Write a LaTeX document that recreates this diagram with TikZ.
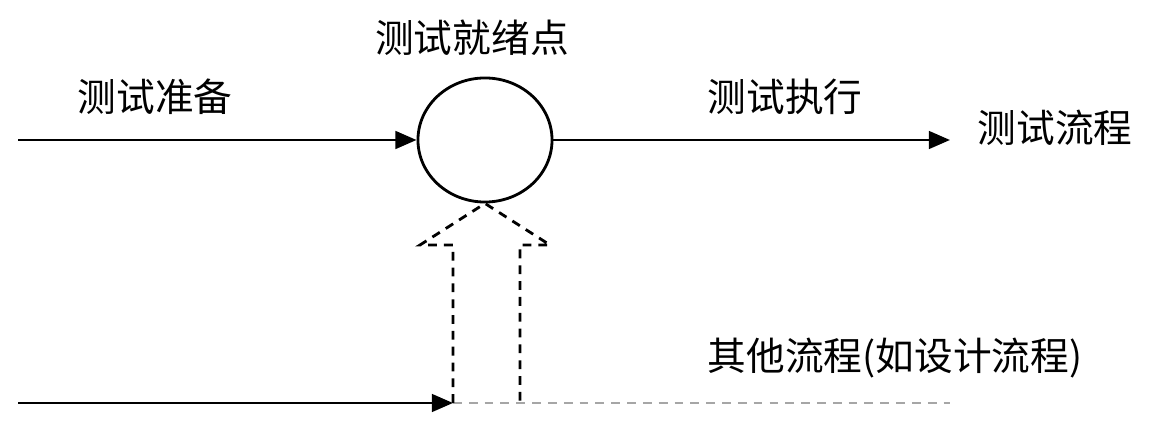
\documentclass[tikz,border=0pt]{standalone}
\usepackage{fontspec}
\setmainfont{Noto Sans CJK SC}
\usetikzlibrary{arrows.meta,shapes.geometric}
\begin{document}
\begin{tikzpicture}[x=0.01cm,y=-0.01cm,
  lbl/.style={font=\fontsize{11}{13}\selectfont},
  arr/.style={line width=0.8pt,-{Triangle[length=6pt,width=5pt]}},
  dsh/.style={line width=0.8pt,dash pattern=on 2.5pt off 2pt}]
\useasboundingbox (0,0) rectangle (1157,440);
\node[ellipse,draw,line width=0.8pt,inner sep=0,minimum width=1.34cm,minimum height=1.24cm] (c) at (485,140) {};
\coordinate (a0) at (18,140);
\coordinate (a1) at (950,140);
\draw[arr] (a0) -- (c.west);
\draw[arr] (c.east) -- (a1);
\coordinate (b0) at (18,403);
\coordinate (b1) at (453,403);
\coordinate (b2) at (950,403);
\draw[arr] (b0) -- (b1);
\draw[dsh,gray!70] (b1) -- (b2);
\draw[dsh] (453,403) -- (453,245) -- (420,245) -- (c.south) -- (550,245) -- (520,245) -- (520,403);
\node[lbl] (t1) at (472,38) {测试就绪点};
\node[lbl] (t2) at (155,97) {测试准备};
\node[lbl] (t3) at (785,97) {测试执行};
\node[lbl] (t4) at (1055,128) {测试流程};
\node[lbl] (t5) at (895,358) {其他流程(如设计流程)};
\end{tikzpicture}
\end{document}
